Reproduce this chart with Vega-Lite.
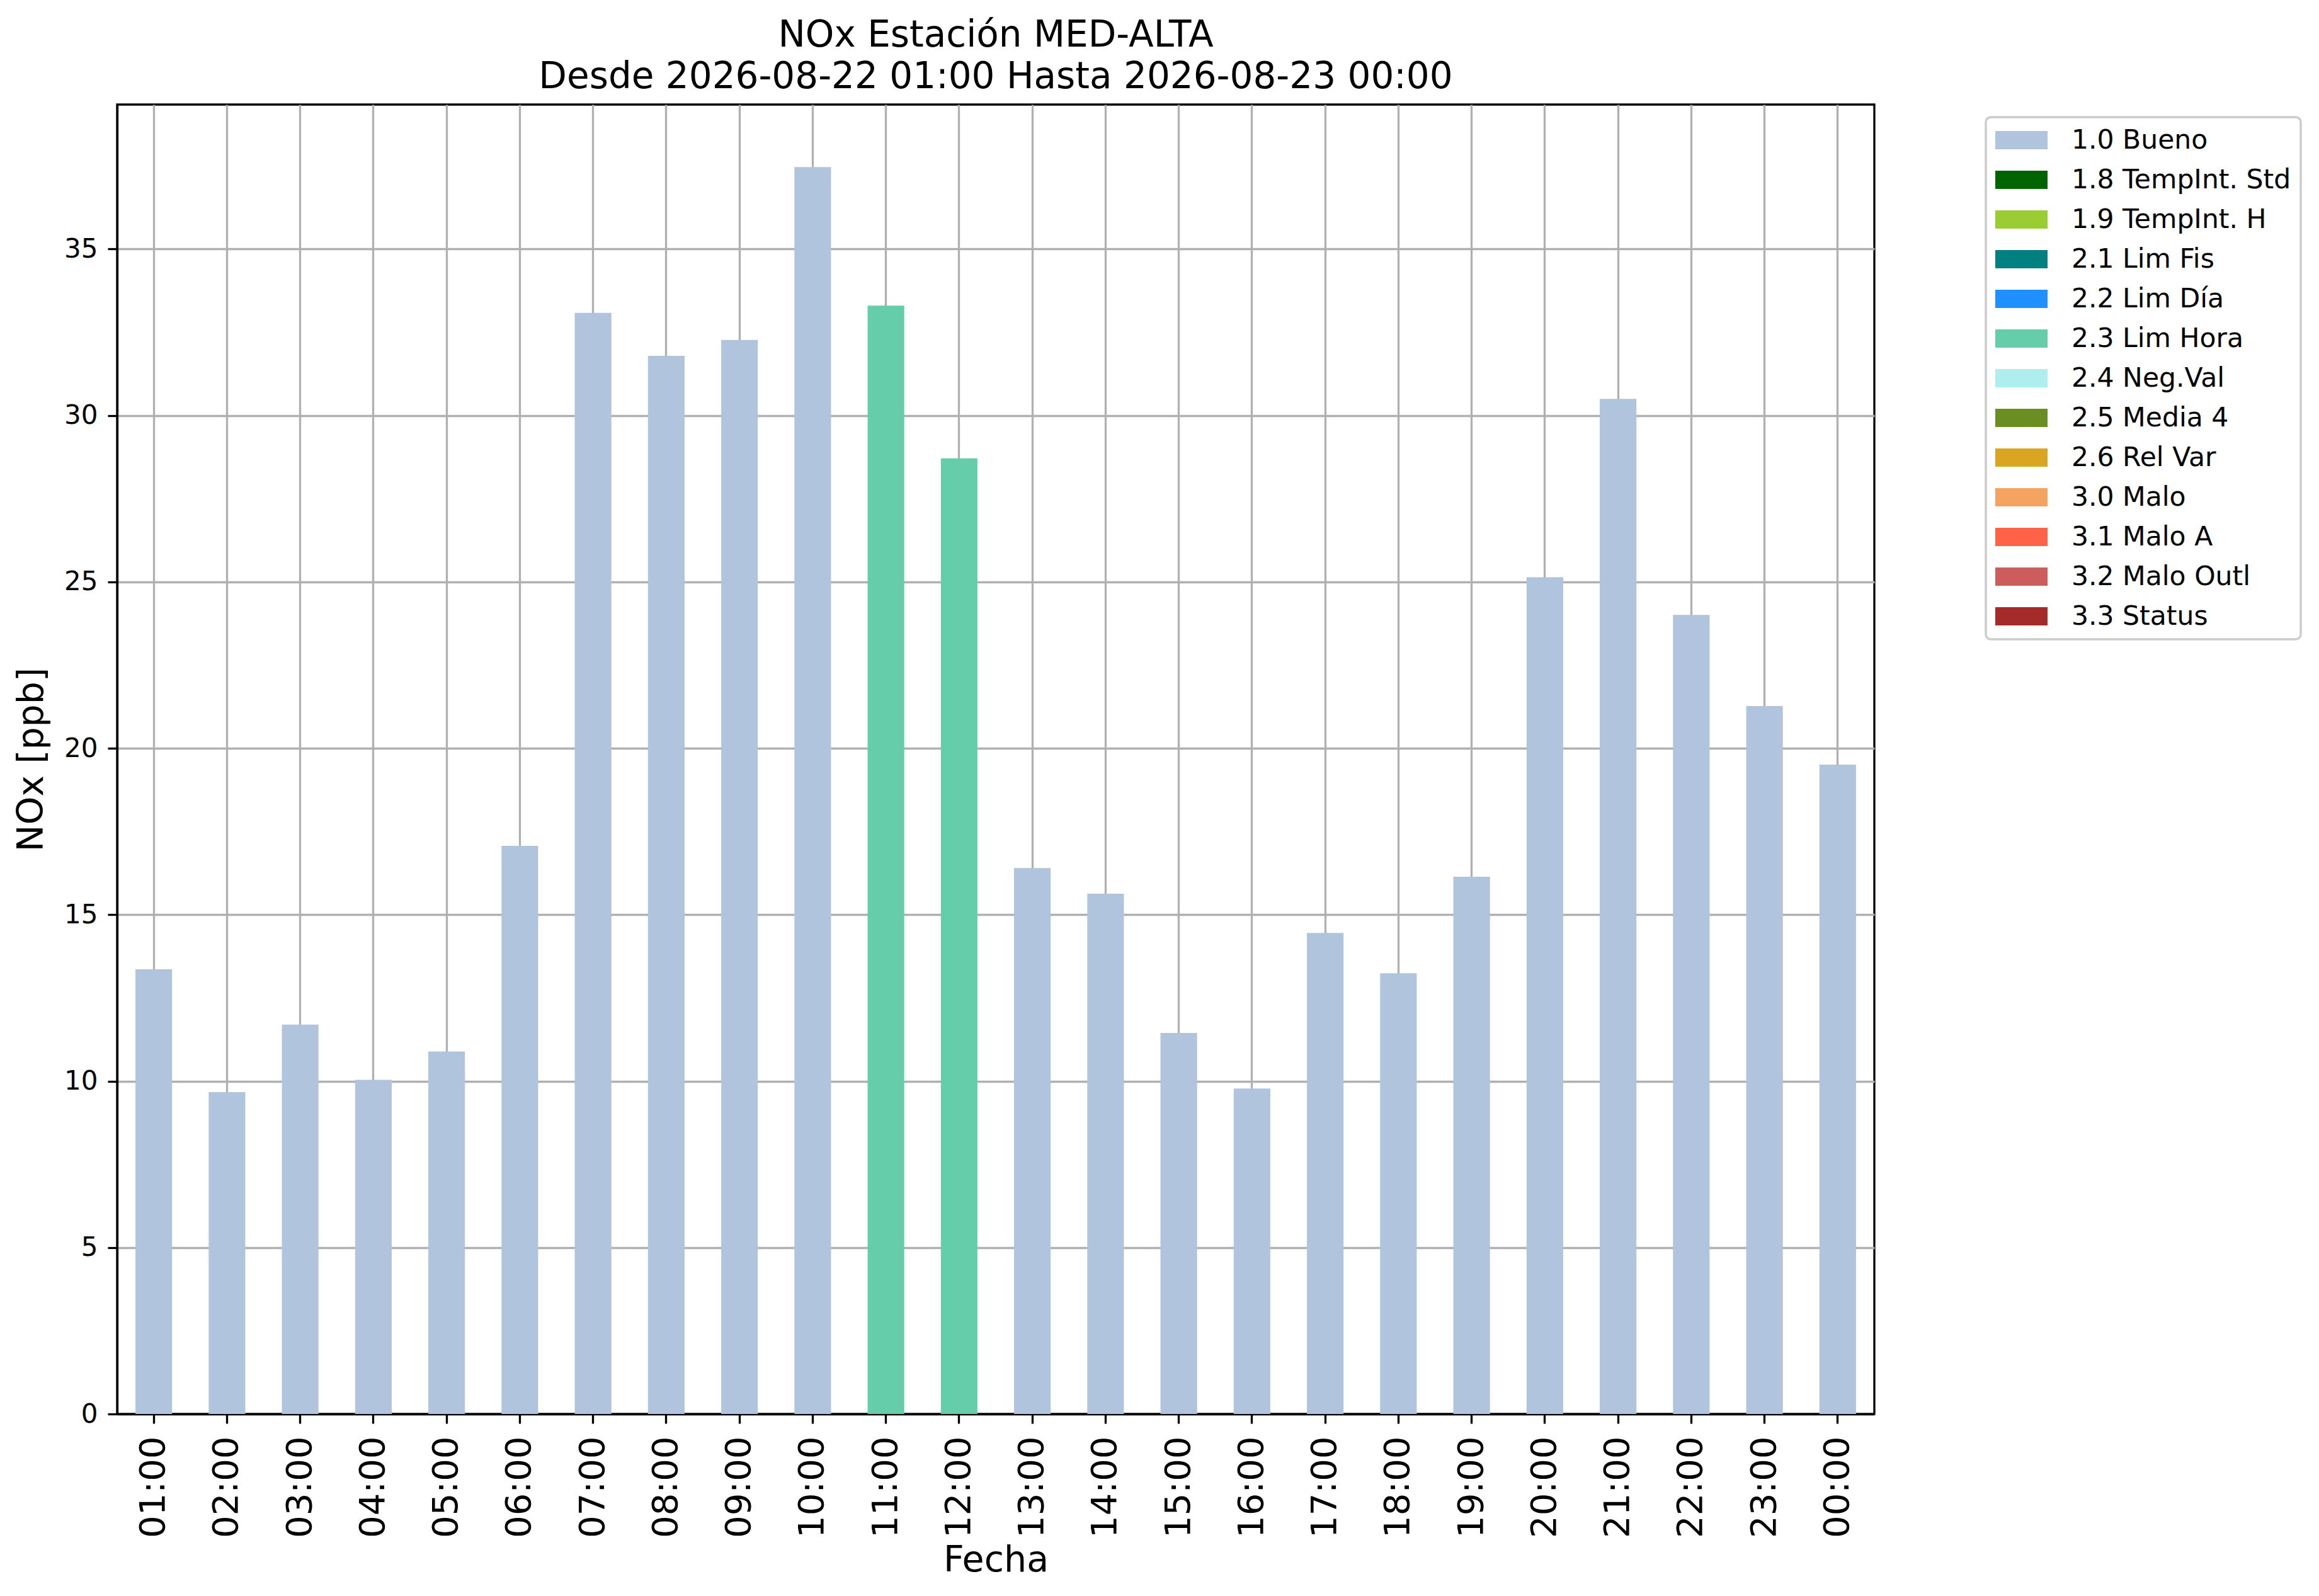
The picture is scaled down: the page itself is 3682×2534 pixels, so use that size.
{
  "$schema": "https://vega.github.io/schema/vega-lite/v6.json",
  "description": "NOx hourly bars for station MED-ALTA, coloured by validation flag.",
  "autosize": "none",
  "padding": {"left": 186, "top": 166, "right": 706, "bottom": 289},
  "width": 2790,
  "height": 2079,
  "background": "white",
  "title": {
    "text": ["NOx Estación MED-ALTA", "Desde 2026-08-22 01:00 Hasta 2026-08-23 00:00"],
    "fontSize": 58,
    "fontWeight": "normal",
    "color": "black",
    "anchor": "middle",
    "lineHeight": 66,
    "offset": 14
  },
  "data": {
    "values": [
      {"hora": "01:00", "nox": 13.36, "flag": "1.0 Bueno"},
      {"hora": "02:00", "nox": 9.67, "flag": "1.0 Bueno"},
      {"hora": "03:00", "nox": 11.70, "flag": "1.0 Bueno"},
      {"hora": "04:00", "nox": 10.04, "flag": "1.0 Bueno"},
      {"hora": "05:00", "nox": 10.89, "flag": "1.0 Bueno"},
      {"hora": "06:00", "nox": 17.07, "flag": "1.0 Bueno"},
      {"hora": "07:00", "nox": 33.08, "flag": "1.0 Bueno"},
      {"hora": "08:00", "nox": 31.79, "flag": "1.0 Bueno"},
      {"hora": "09:00", "nox": 32.27, "flag": "1.0 Bueno"},
      {"hora": "10:00", "nox": 37.46, "flag": "1.0 Bueno"},
      {"hora": "11:00", "nox": 33.30, "flag": "2.3 Lim Hora"},
      {"hora": "12:00", "nox": 28.71, "flag": "2.3 Lim Hora"},
      {"hora": "13:00", "nox": 16.40, "flag": "1.0 Bueno"},
      {"hora": "14:00", "nox": 15.63, "flag": "1.0 Bueno"},
      {"hora": "15:00", "nox": 11.45, "flag": "1.0 Bueno"},
      {"hora": "16:00", "nox": 9.78, "flag": "1.0 Bueno"},
      {"hora": "17:00", "nox": 14.45, "flag": "1.0 Bueno"},
      {"hora": "18:00", "nox": 13.24, "flag": "1.0 Bueno"},
      {"hora": "19:00", "nox": 16.14, "flag": "1.0 Bueno"},
      {"hora": "20:00", "nox": 25.14, "flag": "1.0 Bueno"},
      {"hora": "21:00", "nox": 30.50, "flag": "1.0 Bueno"},
      {"hora": "22:00", "nox": 24.01, "flag": "1.0 Bueno"},
      {"hora": "23:00", "nox": 21.27, "flag": "1.0 Bueno"},
      {"hora": "00:00", "nox": 19.51, "flag": "1.0 Bueno"}
    ]
  },
  "mark": {"type": "bar", "opacity": 1},
  "encoding": {
    "x": {
      "field": "hora",
      "type": "ordinal",
      "sort": null,
      "scale": {"paddingInner": 0.5, "paddingOuter": 0.25},
      "axis": {
        "title": "Fecha",
        "labelAngle": 270,
        "labelFontSize": 56,
        "labelPadding": 20,
        "titleFontSize": 57,
        "titlePadding": 8
      }
    },
    "y": {
      "field": "nox",
      "type": "quantitative",
      "scale": {"domain": [0, 39.34], "nice": false, "zero": true},
      "axis": {
        "title": "NOx [ppb]",
        "values": [0, 5, 10, 15, 20, 25, 30, 35],
        "labelFontSize": 42,
        "labelPadding": 16,
        "titleFontSize": 57,
        "titlePadding": 22
      }
    },
    "color": {
      "field": "flag",
      "type": "nominal",
      "scale": {
        "domain": ["1.0 Bueno", "1.8 TempInt. Std", "1.9 TempInt. H", "2.1 Lim Fis", "2.2 Lim Día", "2.3 Lim Hora", "2.4 Neg.Val", "2.5 Media 4", "2.6 Rel Var", "3.0 Malo", "3.1 Malo A", "3.2 Malo Outl", "3.3 Status"],
        "range": ["#b0c4de", "#006400", "#9acd32", "#008080", "#1e90ff", "#66cdaa", "#afeeee", "#6b8e23", "#daa520", "#f4a460", "#ff6347", "#cd5c5c", "#a52a2a"]
      },
      "legend": {
        "title": null,
        "orient": "none",
        "legendX": 2967,
        "legendY": 20
      }
    }
  },
  "config": {
    "font": "DejaVu Sans",
    "view": {"stroke": "black", "strokeWidth": 3.3},
    "axis": {
      "grid": true,
      "gridColor": "#b0b0b0",
      "gridWidth": 3.3,
      "gridOpacity": 1,
      "domainColor": "black",
      "domainWidth": 3.3,
      "tickColor": "black",
      "tickWidth": 3.3,
      "tickSize": 15,
      "labelColor": "black",
      "titleColor": "black",
      "titleFontWeight": "normal",
      "labelFont": "DejaVu Sans",
      "titleFont": "DejaVu Sans",
      "zindex": 1
    },
    "legend": {
      "symbolType": "M-1.93,-0.68L1.93,-0.68L1.93,0.68L-1.93,0.68Z",
      "symbolSize": 1849,
      "symbolOffset": 20,
      "symbolStrokeWidth": 0,
      "symbolOpacity": 1,
      "labelFontSize": 42.5,
      "labelColor": "black",
      "labelFont": "DejaVu Sans",
      "labelOffset": 58,
      "labelLimit": 0,
      "rowPadding": 20,
      "padding": 15,
      "strokeColor": "#cccccc",
      "strokeWidth": 3.5,
      "cornerRadius": 8,
      "fillColor": "white"
    }
  }
}
